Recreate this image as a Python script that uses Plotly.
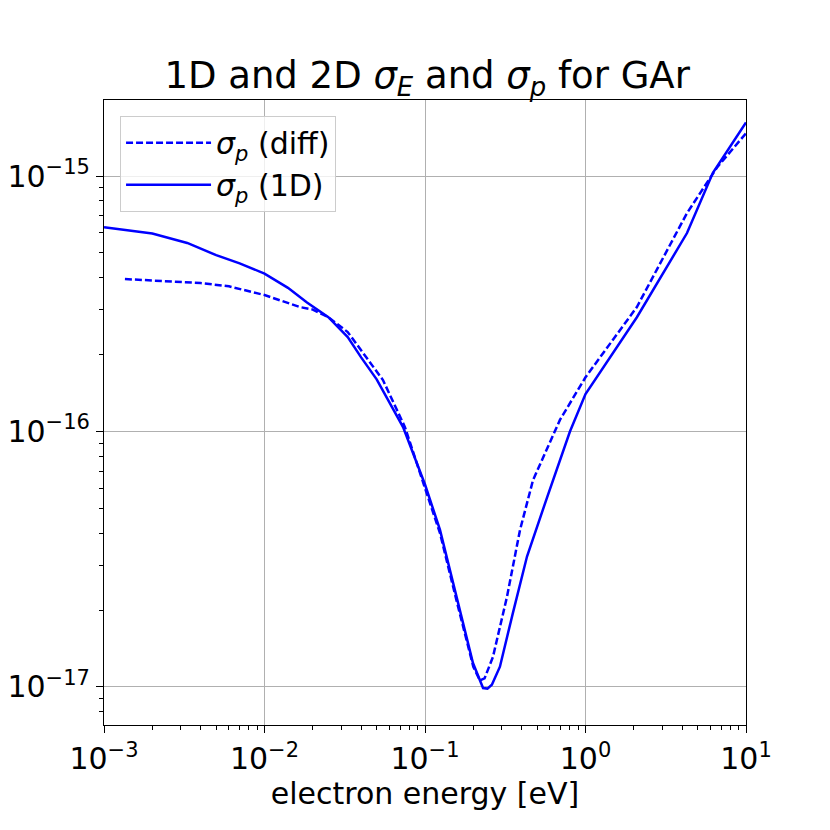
import plotly.graph_objects as go

# Data
energy_1d = [1e-3, 2e-3, 3.3e-3, 5e-3, 7e-3, 1e-2, 1.4e-2, 1.84e-2, 2.5e-2, 3.3e-2, 4e-2, 5e-2,
             7.3e-2, 0.1, 0.124, 0.158, 0.199, 0.23, 0.245, 0.261, 0.293, 0.353, 0.432, 0.575,
             0.8, 1.0, 2.09, 4.29, 6.22, 10.0]
sigma_1d = [6.3e-16, 5.95e-16, 5.47e-16, 4.9e-16, 4.55e-16, 4.15e-16, 3.65e-16, 3.2e-16, 2.8e-16,
            2.34e-16, 1.95e-16, 1.6e-16, 1.04e-16, 6.2e-17, 4.12e-17, 2.25e-17, 1.24e-17, 9.9e-18,
            9.85e-18, 1.02e-17, 1.2e-17, 1.95e-17, 3.24e-17, 5.5e-17, 1.0e-16, 1.4e-16, 2.8e-16,
            5.98e-16, 1.03e-15, 1.62e-15]

energy_diff = [1.35e-3, 4e-3, 6e-3, 1e-2, 1.66e-2, 2e-2, 2.5e-2, 3.3e-2, 5.47e-2, 7.5e-2, 0.1,
               0.124, 0.158, 0.2, 0.22, 0.235, 0.265, 0.324, 0.391, 0.471, 0.693, 1.0, 2.09,
               4.29, 6.6, 10.0]
sigma_diff = [3.95e-16, 3.81e-16, 3.7e-16, 3.42e-16, 3.07e-16, 3.0e-16, 2.8e-16, 2.45e-16,
              1.59e-16, 1.04e-16, 6.0e-17, 4.0e-17, 2.15e-17, 1.2e-17, 1.06e-17, 1.08e-17,
              1.31e-17, 2.25e-17, 4.12e-17, 6.45e-17, 1.11e-16, 1.63e-16, 3.07e-16, 7.16e-16,
              1.08e-15, 1.47e-15]

x_tickvals = [1e-3, 1e-2, 1e-1, 1e0, 1e1]
x_ticktext = ["10<sup>−3</sup>", "10<sup>−2</sup>", "10<sup>−1</sup>", "10<sup>0</sup>", "10<sup>1</sup>"]
y_tickvals = [1e-17, 1e-16, 1e-15]
y_ticktext = ["10<sup>−17</sup>", "10<sup>−16</sup>", "10<sup>−15</sup>"]

x_minor = [m * 10.0 ** e for e in range(-3, 1) for m in range(2, 10)]
y_minor = [m * 10.0 ** e for e in range(-18, -14) for m in range(2, 10)]

FONT = "DejaVu Sans"

fig = go.Figure()
fig.add_trace(go.Scatter(x=energy_diff, y=sigma_diff, mode="lines",
                         name="<i>σ</i><sub><i>p</i></sub> (diff)",
                         line=dict(color="#0000ff", width=2.5, dash="7px,3px")))
fig.add_trace(go.Scatter(x=energy_1d, y=sigma_1d, mode="lines",
                         name="<i>σ</i><sub><i>p</i></sub> (1D)",
                         line=dict(color="#0000ff", width=2.5)))

axis_common = dict(
    showline=True, linecolor="black", linewidth=1.2, mirror=True,
    ticks="outside", ticklen=7, tickwidth=1.2, tickcolor="black",
    showgrid=True, gridcolor="#b0b0b0", gridwidth=1, automargin=False,
    zeroline=False, tickfont=dict(family=FONT, size=30, color="black"),
)

fig.update_layout(
    width=830, height=830,
    margin=dict(l=96, r=92, t=92, b=113),
    paper_bgcolor="white", plot_bgcolor="white",
    font=dict(family=FONT, color="black"),
    title=dict(text="1D and 2D <i>σ</i><sub><i>E</i></sub> and <i>σ</i><sub><i>p</i></sub> for GAr",
               x=0.505, xanchor="center", y=0.919, yanchor="middle",
               font=dict(family=FONT, size=37, color="black")),
    xaxis=dict(type="log", range=[-3, 1], tickmode="array", tickvals=x_tickvals,
               ticktext=x_ticktext,
               title=dict(text="electron energy [eV]", font=dict(family=FONT, size=30), standoff=6),
               minor=dict(tickmode="array", tickvals=x_minor, ticks="outside", ticklen=4,
                          tickcolor="black", showgrid=False),
               **axis_common),
    yaxis=dict(type="log", range=[-17.149, -14.7025], tickmode="array", tickvals=y_tickvals,
               ticktext=y_ticktext,
               minor=dict(tickmode="array", tickvals=y_minor, ticks="outside", ticklen=4,
                          tickcolor="black", showgrid=False),
               **axis_common),
    legend=dict(x=0.025, y=0.975, xanchor="left", yanchor="top",
                bgcolor="rgba(255,255,255,0.8)", bordercolor="#cccccc", borderwidth=1,
                font=dict(family=FONT, size=30, color="black"),
                itemwidth=85, tracegroupgap=4),
    showlegend=True,
)

fig.write_html("out.html")
